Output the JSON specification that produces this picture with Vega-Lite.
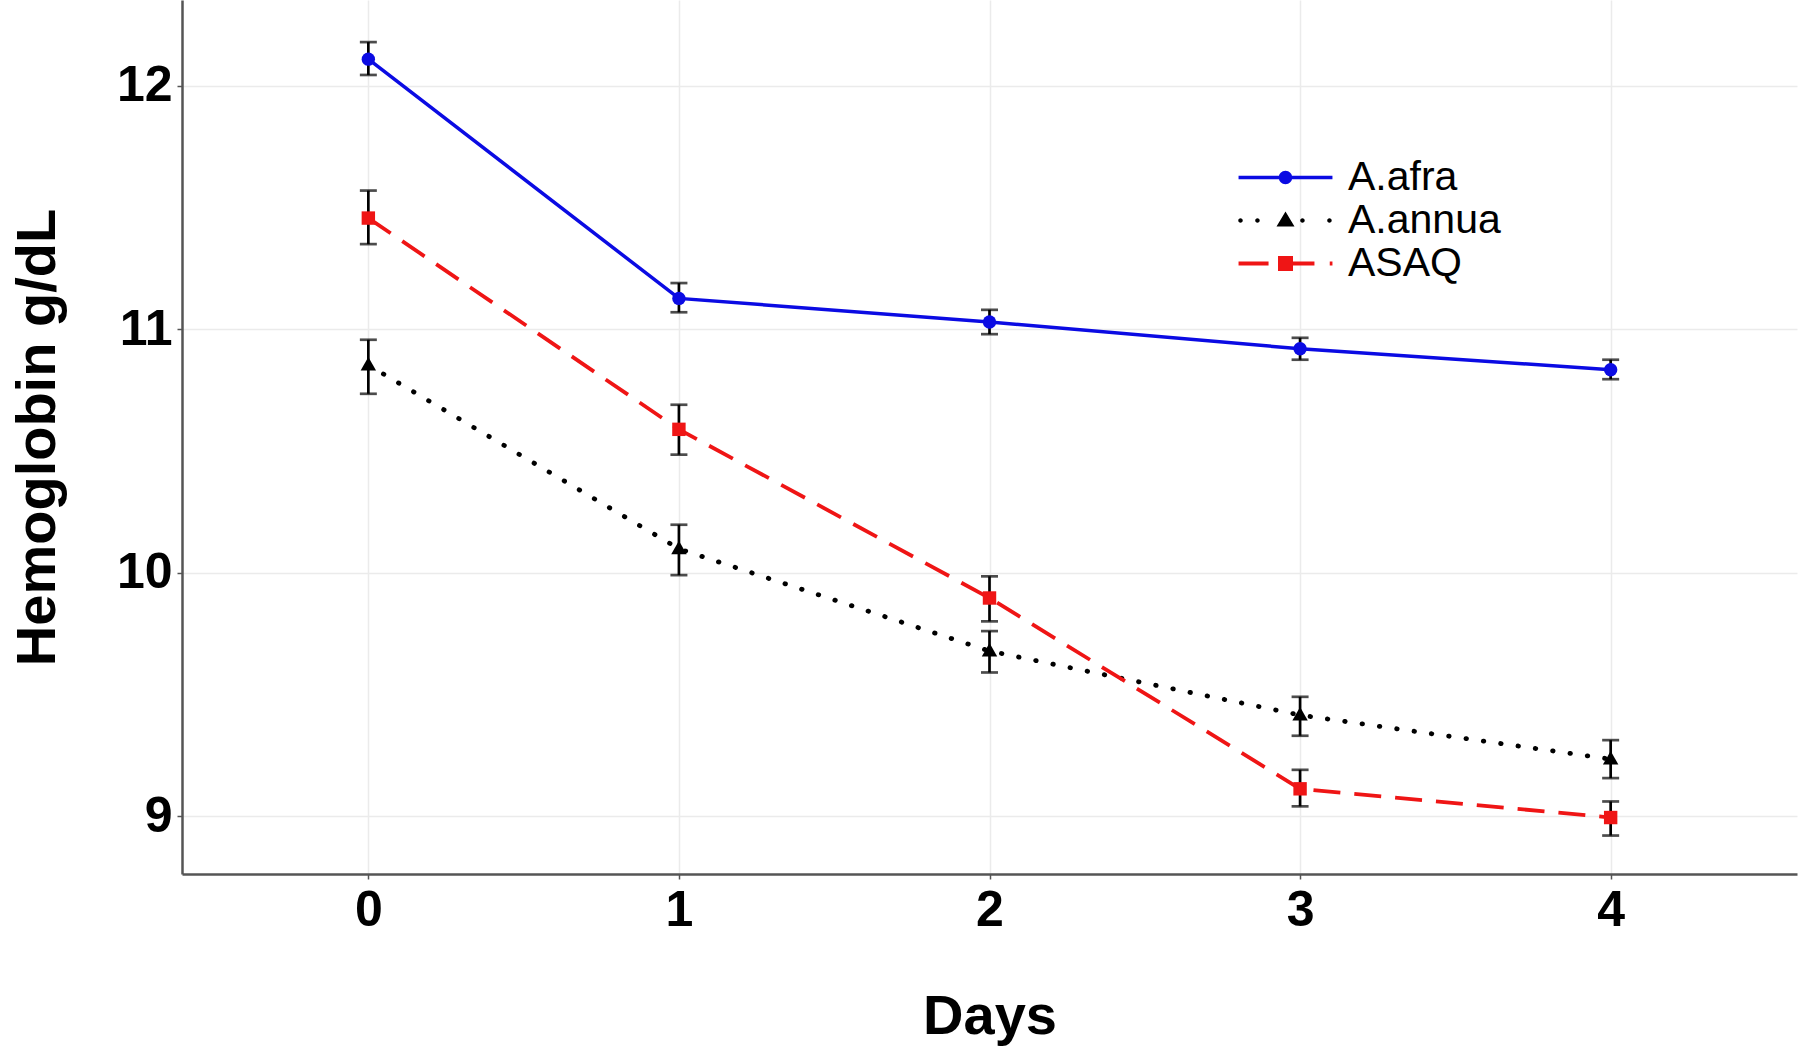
{
  "$schema": "https://vega.github.io/schema/vega-lite/v6.json",
  "width": 1615,
  "height": 874,
  "autosize": {"type": "none"},
  "padding": {"left": 182, "top": 0, "right": 3, "bottom": 176},
  "background": "white",
  "config": {
    "view": {"stroke": null},
    "font": "Liberation Sans",
    "axis": {
      "grid": true,
      "gridColor": "#ebebeb",
      "gridWidth": 1.5,
      "domainColor": "#555555",
      "domainWidth": 2.5,
      "tickColor": "#555555",
      "tickSize": 5,
      "tickWidth": 1.5,
      "labelFont": "Liberation Sans",
      "labelFontWeight": "bold",
      "labelFontSize": 50,
      "labelColor": "black",
      "titleFont": "Liberation Sans",
      "titleFontWeight": "bold",
      "titleFontSize": 56,
      "titleColor": "black"
    }
  },
  "data": {
    "values": [
      {"day": 0, "group": "A.afra", "hb": 12.11, "lo": 12.045, "hi": 12.18},
      {"day": 1, "group": "A.afra", "hb": 11.127, "lo": 11.07, "hi": 11.19},
      {"day": 2, "group": "A.afra", "hb": 11.03, "lo": 10.98, "hi": 11.08},
      {"day": 3, "group": "A.afra", "hb": 10.92, "lo": 10.875, "hi": 10.965},
      {"day": 4, "group": "A.afra", "hb": 10.834, "lo": 10.795, "hi": 10.875},
      {"day": 0, "group": "A.annua", "hb": 10.853, "lo": 10.735, "hi": 10.957},
      {"day": 1, "group": "A.annua", "hb": 10.098, "lo": 9.99, "hi": 10.197},
      {"day": 2, "group": "A.annua", "hb": 9.678, "lo": 9.59, "hi": 9.76},
      {"day": 3, "group": "A.annua", "hb": 9.415, "lo": 9.33, "hi": 9.49},
      {"day": 4, "group": "A.annua", "hb": 9.234, "lo": 9.156, "hi": 9.312},
      {"day": 0, "group": "ASAQ", "hb": 11.457, "lo": 11.35, "hi": 11.57},
      {"day": 1, "group": "ASAQ", "hb": 10.589, "lo": 10.485, "hi": 10.69},
      {"day": 2, "group": "ASAQ", "hb": 9.896, "lo": 9.8, "hi": 9.985},
      {"day": 3, "group": "ASAQ", "hb": 9.112, "lo": 9.04, "hi": 9.19},
      {"day": 4, "group": "ASAQ", "hb": 8.994, "lo": 8.92, "hi": 9.06}
    ]
  },
  "encoding": {
    "x": {
      "field": "day",
      "type": "quantitative",
      "scale": {"domain": [-0.6, 4.6], "nice": false, "zero": false},
      "axis": {"values": [0, 1, 2, 3, 4], "title": "Days", "labelPadding": 6, "titlePadding": 54}
    },
    "y": {
      "field": "hb",
      "type": "quantitative",
      "scale": {"domain": [8.762, 12.353], "nice": false, "zero": false},
      "axis": {"values": [9, 10, 11, 12], "title": "Hemoglobin g/dL", "labelPadding": 5, "titlePadding": 50}
    }
  },
  "layer": [
    {
      "transform": [{"filter": "datum.group === 'A.afra'"}],
      "mark": {"type": "line", "color": "#0b0be3", "strokeWidth": 3.5}
    },
    {
      "transform": [{"filter": "datum.group === 'A.annua'"}],
      "mark": {"type": "line", "color": "#000000", "strokeWidth": 4.8, "strokeCap": "round", "strokeDash": [0.5, 17]}
    },
    {
      "transform": [{"filter": "datum.group === 'ASAQ'"}],
      "mark": {"type": "line", "color": "#ef1515", "strokeWidth": 3.8, "strokeDash": [27, 14]}
    },
    {
      "mark": {"type": "errorbar", "color": "black", "thickness": 2.7, "ticks": {"size": 17}},
      "encoding": {
        "y": {"field": "lo", "type": "quantitative"},
        "y2": {"field": "hi"}
      }
    },
    {
      "mark": {"type": "point", "filled": true, "opacity": 1, "size": 180},
      "encoding": {
        "color": {
          "field": "group", "type": "nominal",
          "scale": {"domain": ["A.afra", "A.annua", "ASAQ"], "range": ["#0b0be3", "#000000", "#ef1515"]},
          "legend": null
        },
        "shape": {
          "field": "group", "type": "nominal",
          "scale": {"domain": ["A.afra", "A.annua", "ASAQ"], "range": ["circle", "M0,-1.2L1.15,0.8L-1.15,0.8Z", "square"]},
          "legend": null
        }
      }
    },
    {
      "transform": [{"filter": "datum.day === 0"}],
      "mark": {"type": "point", "filled": true, "opacity": 0, "size": 900},
      "encoding": {
        "color": {
          "field": "group", "type": "nominal",
          "scale": {"domain": ["A.afra", "A.annua", "ASAQ"], "range": ["#0b0be3", "#000000", "#ef1515"]},
          "legend": {
            "orient": "none", "legendX": 1083, "legendY": 157, "title": null,
            "labelFont": "Liberation Sans", "labelFontSize": 41, "labelColor": "black", "labelLimit": 500,
            "symbolSize": 900, "symbolOpacity": 1, "symbolStrokeWidth": 0,
            "labelOffset": 42, "rowPadding": 1, "padding": 0
          }
        },
        "shape": {
          "field": "group", "type": "nominal",
          "scale": {
            "domain": ["A.afra", "A.annua", "ASAQ"],
            "range": [
              "M-3.13,-0.11H-0.3V0.11H-3.13ZM0.3,-0.11H3.13V0.11H0.3ZM-0.45,0A0.45,0.45,0,1,1,0.45,0A0.45,0.45,0,1,1,-0.45,0Z",
              "M-3.15,0A0.15,0.15,0,1,1,-2.85,0A0.15,0.15,0,1,1,-3.15,0ZM-2.02,0A0.15,0.15,0,1,1,-1.72,0A0.15,0.15,0,1,1,-2.02,0ZM0.98,0A0.15,0.15,0,1,1,1.28,0A0.15,0.15,0,1,1,0.98,0ZM2.78,0A0.15,0.15,0,1,1,3.08,0A0.15,0.15,0,1,1,2.78,0ZM0,-0.6L0.6,0.4L-0.6,0.4Z",
              "M-3.13,-0.13H-1.13V0.13H-3.13ZM0.5,-0.13H1.93V0.13H0.5ZM2.95,-0.13H3.13V0.13H2.95ZM-0.5,-0.5H0.5V0.5H-0.5Z"
            ]
          },
          "legend": {
            "orient": "none", "legendX": 1083, "legendY": 157, "title": null,
            "labelFont": "Liberation Sans", "labelFontSize": 41, "labelColor": "black", "labelLimit": 500,
            "symbolSize": 900, "symbolOpacity": 1, "symbolStrokeWidth": 0,
            "labelOffset": 42, "rowPadding": 1, "padding": 0
          }
        }
      }
    }
  ],
  "resolve": {"scale": {"color": "independent", "shape": "independent"}}
}
